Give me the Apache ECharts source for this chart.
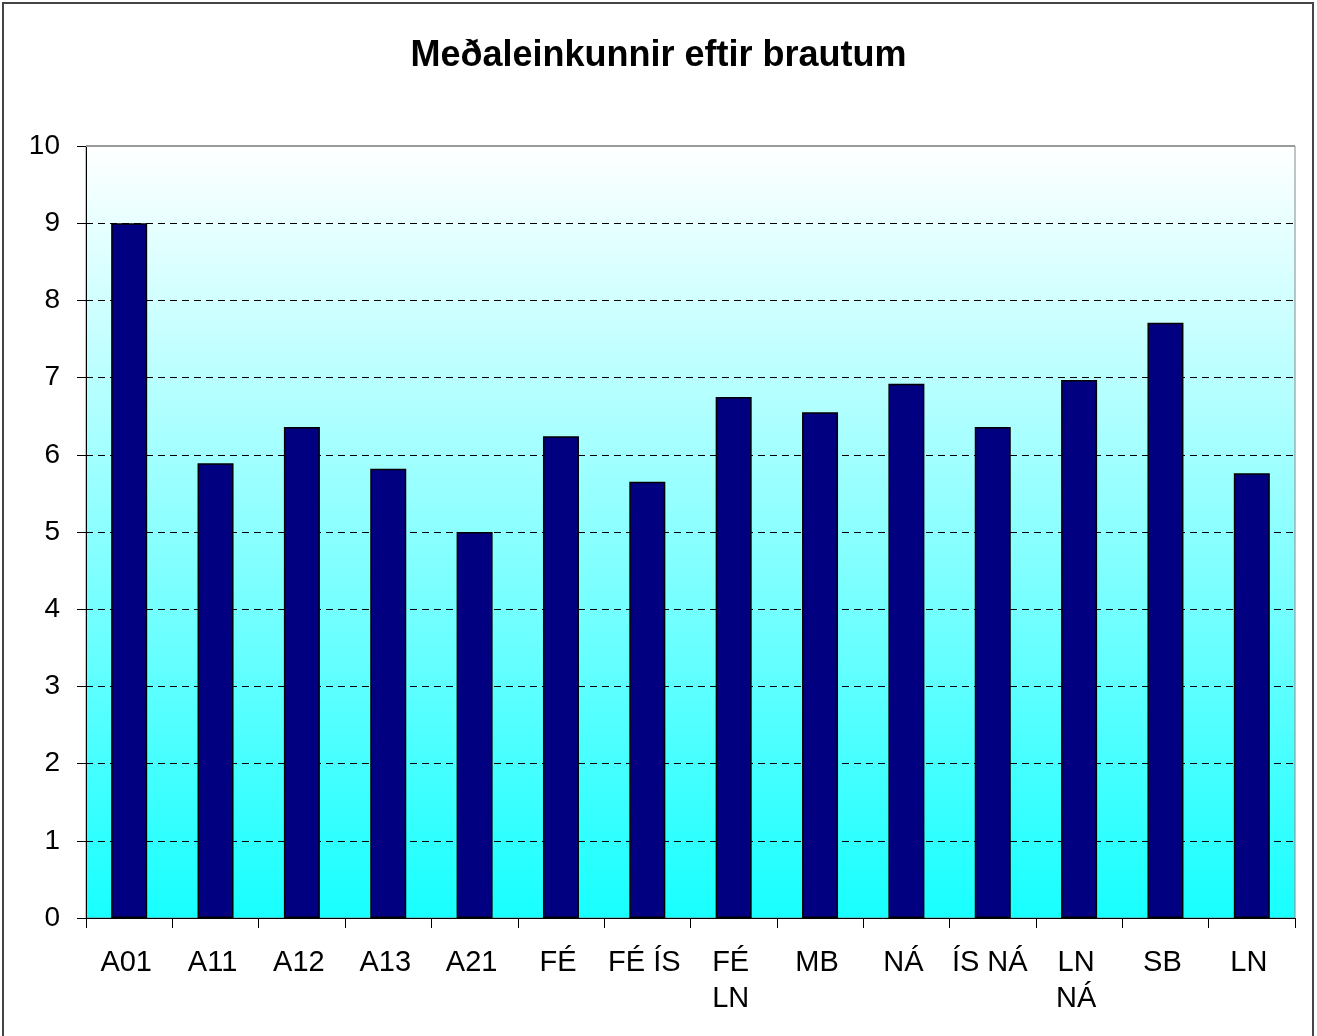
<!DOCTYPE html>
<html><head><meta charset="utf-8">
<script src="https://cdn.jsdelivr.net/npm/echarts@6/dist/echarts.min.js"></script>
<style>html,body{margin:0;padding:0;background:#fff}#c{width:1317px;height:1036px}</style>
</head><body><div id="c"></div>
<script>
const categories = ['A01','A11','A12','A13','A21','FÉ','FÉ ÍS','FÉ\nLN','MB','NÁ','ÍS NÁ','LN\nNÁ','SB','LN'];
const values = [9.0, 5.89, 6.36, 5.82, 5.0, 6.24, 5.65, 6.75, 6.55, 6.92, 6.36, 6.97, 7.71, 5.76];
const yTicks = [0,1,2,3,4,5,6,7,8,9,10];
const titleText = 'Meðaleinkunnir eftir brautum';

const chart = echarts.init(document.getElementById('c'), null, {renderer:'canvas'});
chart.setOption({
  animation:false,
  backgroundColor:'#fff',
  title:{text:titleText,left:'center',top:33,textStyle:{fontFamily:'Liberation Sans, Arial',fontWeight:'bold',fontSize:36,color:'#000'}},
  grid:{left:86,right:22,top:146,bottom:118,show:true,borderColor:'#888',borderWidth:1,
    backgroundColor:new echarts.graphic.LinearGradient(0,0,0,1,[{offset:0,color:'#ffffff'},{offset:1,color:'#18ffff'}])},
  xAxis:{type:'category',data:categories,
    axisLine:{lineStyle:{color:'#000',width:1}},
    axisTick:{show:true,length:10,lineStyle:{color:'#000'}},
    axisLabel:{color:'#000',fontSize:29,fontFamily:'Liberation Sans, Arial',margin:27,lineHeight:36,interval:0,padding:[0,6,0,0]}},
  yAxis:{type:'value',min:yTicks[0],max:yTicks[yTicks.length-1],interval:1,
    axisLine:{show:true,lineStyle:{color:'#000',width:1}},
    axisTick:{show:true,length:9,lineStyle:{color:'#000'}},
    axisLabel:{color:'#000',fontSize:28,fontFamily:'Liberation Sans, Arial',margin:26},
    splitLine:{show:true,lineStyle:{color:'#000',type:[7,5],width:1}}},
  series:[{type:'bar',data:values,barWidth:36,
    itemStyle:{color:'#000080',borderColor:'#000',borderWidth:1.5},
    markLine:{silent:true,symbol:'none',label:{show:false},
      lineStyle:{color:'#999',type:'solid',width:2},data:[{yAxis:yTicks[yTicks.length-1]}]}}],
  graphic:[{type:'rect',shape:{x:3,y:3,width:1310,height:1040},style:{fill:'none',stroke:'#444',lineWidth:2},z:100}]
});
</script></body></html>
